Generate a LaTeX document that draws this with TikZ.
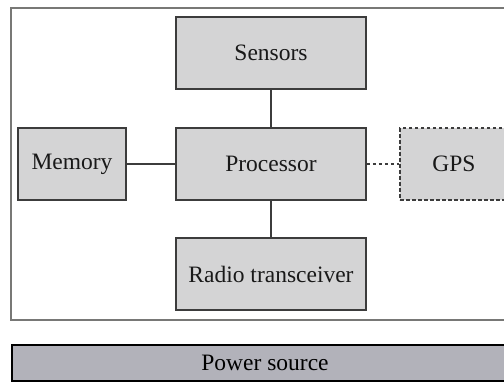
\documentclass[tikz,border=0pt]{standalone}
\usepackage{fontspec}
\setmainfont{Liberation Serif}
\definecolor{boxfill}{RGB}{212,212,213}
\definecolor{boxline}{RGB}{60,60,60}
\definecolor{powerfill}{RGB}{178,178,186}
\definecolor{frameline}{RGB}{120,120,118}
\begin{document}
\begin{tikzpicture}[x=1pt,y=-1pt,
  blk/.style={draw=boxline,line width=1.5pt,fill=boxfill,rectangle,inner sep=0pt,
    font=\fontsize{23.5}{27}\selectfont,text=black!90},
  conn/.style={draw=boxline,line width=1.2pt},
  dconn/.style={conn,dash pattern=on 3.5pt off 2.5pt}]
\useasboundingbox (0,0) rectangle (504,383);
\clip (0,0) rectangle (504,383);
\fill[white] (0,0) rectangle (504,383);
% outer frame
\draw[frameline,line width=1.2pt] (11,8) rectangle (518,320);
% nodes
\node[blk,minimum width=190pt,minimum height=72pt] (sens) at (271,53) {Sensors};
\node[blk,minimum width=190pt,minimum height=72pt] (proc) at (271,164) {Processor};
\node[blk,minimum width=108pt,minimum height=72pt] (mem) at (72,164) {Memory};
\node[blk,minimum width=190pt,minimum height=72pt] (radio) at (271,274) {Radio transceiver};
\node[blk,dash pattern=on 3.5pt off 2.5pt,minimum width=108pt,minimum height=72pt] (gps) at (454,164) {GPS};
\node[draw=black,line width=1.8pt,fill=powerfill,minimum width=506pt,minimum height=36pt,inner sep=0pt,
  font=\fontsize{23.5}{27}\selectfont,text=black] (power) at (265,363) {Power source};
% connectors
\draw[conn] (sens) -- (proc);
\draw[conn] (proc) -- (radio);
\draw[conn] (mem) -- (proc);
\draw[dconn] (proc) -- (gps);
\end{tikzpicture}
\end{document}
